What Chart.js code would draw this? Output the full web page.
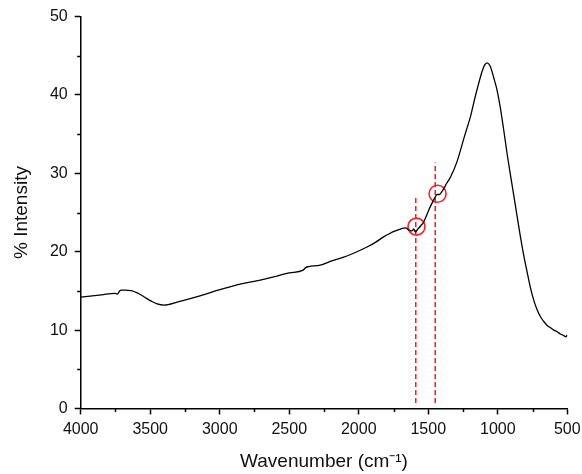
<!DOCTYPE html>
<html>
<head>
<meta charset="utf-8">
<script src="https://cdn.jsdelivr.net/npm/chart.js@4/dist/chart.umd.min.js"></script>
<style>
html,body{margin:0;padding:0;background:#fff;}
#wrap{width:582px;height:474px;position:relative;}
</style>
</head>
<body>
<div id="wrap"><canvas id="ftirChart"></canvas></div>
<script>
// spectrum (wavenumber in cm-1, % intensity)
const wavenumber = [500, 510, 525, 549, 573, 597, 621, 645, 669, 693, 717, 741, 765, 789, 813, 837, 861, 885, 909, 933, 957, 981, 1005, 1029, 1055, 1077, 1095, 1113, 1149, 1173, 1197, 1221, 1245, 1293, 1341, 1365, 1401, 1420, 1437, 1449, 1473, 1497, 1533, 1557, 1575, 1593, 1605, 1617, 1641, 1665, 1700, 1737, 1780, 1821, 1880, 1941, 2013, 2109, 2200, 2277, 2360, 2380, 2400, 2500, 2589, 2700, 2829, 3011, 3155, 3300, 3400, 3450, 3492, 3540, 3587, 3636, 3680, 3708, 3720, 3736, 3755, 3850, 4000];
const intensity  = [9.4, 9.15, 9.3, 9.5, 9.8, 10.0, 10.3, 10.6, 11.1, 11.7, 12.6, 13.8, 15.4, 17.4, 19.5, 21.9, 24.5, 27.2, 29.8, 32.5, 35.5, 38.3, 40.6, 42.2, 43.7, 44.1, 43.8, 43.0, 40.7, 39.0, 37.2, 35.8, 34.4, 31.5, 29.5, 28.8, 27.7, 27.3, 27.3, 27.0, 26.2, 25.3, 23.8, 23.25, 22.9, 22.5, 22.9, 22.65, 22.8, 23.05, 22.9, 22.65, 22.3, 21.9, 21.2, 20.6, 20.0, 19.3, 18.8, 18.3, 18.1, 18.0, 17.65, 17.3, 16.9, 16.4, 15.95, 15.1, 14.3, 13.6, 13.2, 13.35, 13.7, 14.2, 14.7, 15.05, 15.1, 15.1, 15.0, 14.6, 14.7, 14.5, 14.2];

// marked bands
const bandX = [1590, 1450];
const bandTop = [27.2, 31.4];
const bandBottom = 0.7;
const circleX = [1585, 1433];
const circleY = [23.2, 27.4];

const xMajor = 500;
const yMajor = 10;
const xMinorTicks = [3750, 3250, 2750, 2250, 1750, 1250, 750];
const yMinorTicks = [5, 15, 25, 35, 45];

const font = 'Liberation Sans, Arial, sans-serif';

const minorTicks = {
  id: 'minorTicks',
  afterDraw(chart){
    const ctx = chart.ctx;
    const xs = chart.scales.x, ys = chart.scales.y;
    ctx.save();
    ctx.strokeStyle = '#000';
    ctx.lineWidth = 1.5;
    xMinorTicks.forEach(v => {
      const px = Math.round(xs.getPixelForValue(v)) + 0.5;
      ctx.beginPath(); ctx.moveTo(px, ys.bottom); ctx.lineTo(px, ys.bottom + 3.5); ctx.stroke();
    });
    yMinorTicks.forEach(v => {
      const py = Math.round(ys.getPixelForValue(v)) + 0.5;
      ctx.beginPath(); ctx.moveTo(xs.left, py); ctx.lineTo(xs.left - 3.5, py); ctx.stroke();
    });
    ctx.restore();
  }
};

const datasets = [{
  data: wavenumber.map((w, i) => ({x: w, y: intensity[i]})),
  borderColor: '#000',
  borderWidth: 1.3,
  pointRadius: 0,
  cubicInterpolationMode: 'monotone'
}];

bandX.forEach((w, i) => {
  datasets.push({
    data: [{x: w, y: bandBottom}, {x: w, y: bandTop[i]}],
    borderColor: '#ff1a1a',
    borderWidth: 1.5,
    borderDash: [5, 3],
    pointRadius: 0
  });
});

datasets.push({
  data: circleX.map((w, i) => ({x: w, y: circleY[i]})),
  showLine: false,
  pointRadius: 8.5,
  pointBorderWidth: 1.6,
  pointBorderColor: '#ff1a1a',
  pointBackgroundColor: 'rgba(0,0,0,0)'
});

new Chart(document.getElementById('ftirChart'), {
  type: 'line',
  data: {datasets: datasets},
  options: {
    responsive: true,
    maintainAspectRatio: false,
    animation: false,
    layout: {padding: {top: 16, right: 14.7, bottom: 0, left: 0}},
    plugins: {legend: {display: false}, tooltip: {enabled: false}},
    scales: {
      x: {
        type: 'linear',
        reverse: true,
        min: 500,
        max: 4000,
        afterFit(scale){ scale.height = 65.5; scale.paddingLeft = 0; scale.paddingRight = 0; },
        grid: {drawOnChartArea: false, drawTicks: true, tickLength: 6, tickColor: '#000', tickWidth: 1.5},
        border: {display: true, color: '#000', width: 1.5},
        ticks: {stepSize: xMajor, color: '#111', padding: 5, maxRotation: 0, callback: v => String(v), font: {family: font, size: 16}},
        title: {display: true, text: 'Wavenumber (cm⁻¹)', color: '#111', padding: {top: 0, bottom: 1}, font: {family: font, size: 19}}
      },
      y: {
        min: 0,
        max: 50,
        afterFit(scale){ scale.width = 80.7; },
        grid: {drawOnChartArea: false, drawTicks: true, tickLength: 6, tickColor: '#000', tickWidth: 1.5},
        border: {display: true, color: '#000', width: 1.5},
        ticks: {stepSize: yMajor, color: '#111', padding: 7, callback: v => String(v), font: {family: font, size: 16}},
        title: {display: true, text: '% Intensity', color: '#111', padding: {top: 10, bottom: 0}, font: {family: font, size: 19}}
      }
    }
  },
  plugins: [minorTicks]
});
</script>
</body>
</html>
